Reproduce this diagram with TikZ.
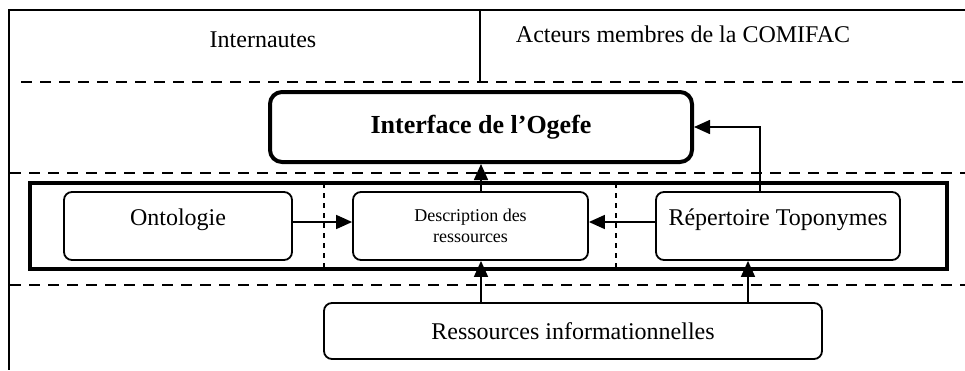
\documentclass[tikz,border=0pt]{standalone}
\usepackage{fontspec}
\setmainfont{Liberation Serif}
\usetikzlibrary{arrows.meta}

\begin{document}
\begin{tikzpicture}[x=0.5pt, y=-0.5pt,
    box/.style={draw, line width=0.9pt, rounded corners=4pt, align=center, font=\fontsize{12}{14}\selectfont},
    lane/.style={line width=1.4pt, dash pattern=on 5.5pt off 4pt},
    sep/.style={line width=0.6pt, dash pattern=on 2.5pt off 2.5pt},
    arr/.style={line width=0.8pt, -{Triangle[length=8pt, width=7pt]}}]
    \useasboundingbox (0,0) rectangle (965,370);

    % frame and lanes
    \draw[line width=0.7pt] (965,10) -- (9,10) -- (9,370);
    \draw[line width=0.7pt] (480,10) -- (480,82);
    \draw[lane] (21,82) -- (965,82);
    \draw[lane] (10,173) -- (965,173);
    \draw[lane] (10,285) -- (965,285);

    \node[font=\fontsize{12}{14}\selectfont] (web) at (263,40) {Internautes};
    \node[font=\fontsize{12}{14}\selectfont] (comifac) at (683,34) {Acteurs membres de la COMIFAC};

    % Ogefe
    \draw[line width=2.2pt] (30,183) rectangle (947,269);
    \draw[sep] (324,183) -- (324,269);
    \draw[sep] (616,183) -- (616,269);

    \node[box, line width=2pt, rounded corners=6pt, minimum width=211pt, minimum height=35pt,
          font=\bfseries\fontsize{13}{15}\selectfont] (inter) at (481,127) {Interface de l’Ogefe};
    \node[box, minimum width=114pt, minimum height=34pt, text height=9pt, text depth=10pt] (ont) at (178,226) {Ontologie};
    \node[box, minimum width=117.5pt, minimum height=34pt, font=\fontsize{9}{10.5}\selectfont] (desc) at (470.5,226) {Description des\\ressources};
    \node[box, minimum width=122pt, minimum height=34pt, text height=9pt, text depth=10pt] (rep) at (778,226) {Répertoire Toponymes};
    \node[box, minimum width=249pt, minimum height=28pt] (res) at (573,331) {Ressources informationnelles};

    \draw[arr] ([yshift=2pt]ont.east) -- ([yshift=2pt]desc.west);
    \draw[arr] ([yshift=2pt]rep.west) -- ([yshift=2pt]desc.east);
    \draw[arr] (inter.south |- desc.north) -- (inter.south);
    \draw[arr] ([xshift=-9pt]rep.north) |- (inter.east);
    \draw[arr] (inter.south |- res.north) -- (inter.south |- desc.south);
    \draw[arr] ([xshift=-15pt]rep.south |- res.north) -- ([xshift=-15pt]rep.south);

\end{tikzpicture}
\end{document}
